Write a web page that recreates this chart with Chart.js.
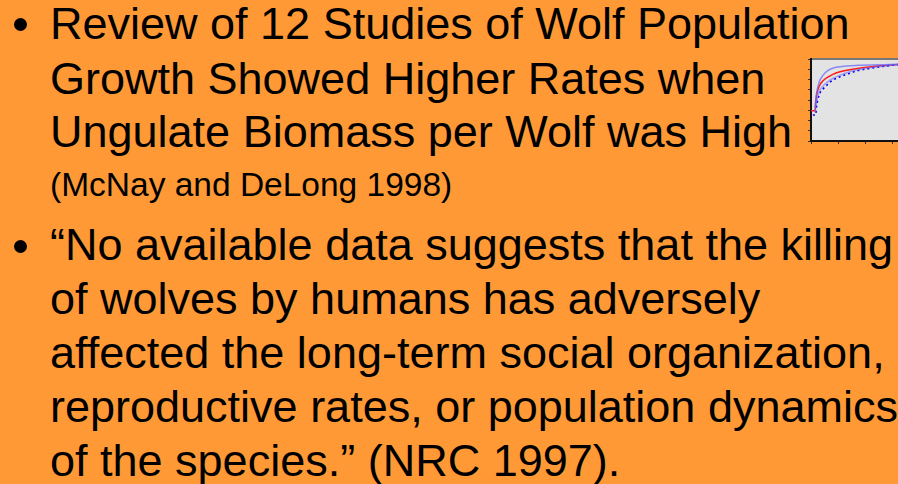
<!DOCTYPE html>
<html>
<head>
<meta charset="utf-8">
<script src="https://cdn.jsdelivr.net/npm/chart.js@4.4.1/dist/chart.umd.min.js"></script>
<style>
  html, body { margin: 0; padding: 0; }
  body {
    width: 898px; height: 484px; overflow: hidden; position: relative;
    background: #fe9935; font-family: "Liberation Sans", Arial, sans-serif; color: #000;
  }
  .ln { position: absolute; left: 50px; white-space: nowrap; font-size: 45px; line-height: 45px; }
  .small { font-size: 33.5px; line-height: 33.5px; }
  .dot { position: absolute; left: 14px; width: 13px; height: 13px; border-radius: 50%; background: #000; }
  #box { position: absolute; left: 807px; top: 55px; width: 101px; height: 90px; }
</style>
</head>
<body>
<div class="dot" style="top:18px"></div>
<div class="ln" style="top:1px">Review of 12 Studies of Wolf Population</div>
<div class="ln" style="top:56px">Growth Showed Higher Rates when</div>
<div class="ln" style="top:109px">Ungulate Biomass per Wolf was High</div>
<div class="ln small" style="top:168px">(McNay and DeLong 1998)</div>

<div class="dot" style="top:240px"></div>
<div class="ln" style="top:222px">“No available data suggests that the killing</div>
<div class="ln" style="top:276px">of wolves by humans has adversely</div>
<div class="ln" style="top:330px">affected the long-term social organization,</div>
<div class="ln" style="top:384px">reproductive rates, or population dynamics</div>
<div class="ln" style="top:438px">of the species.” (NRC 1997).</div>

<div id="box"><canvas id="thumb" width="101" height="90"></canvas></div>

<script>
const curveX = [0, 0.07, 0.15, 0.17, 0.2, 0.3, 0.45, 0.6, 0.8, 1.0, 1.3, 1.7, 2.2, 2.7, 3.2, 3.6];
const redY   = [2.96, 2.96, 2.96, 3.7, 4.4, 5.35, 5.9, 6.2, 6.5, 6.7, 6.9, 7.08, 7.25, 7.36, 7.46, 7.5];
const blueY  = [null, 2.54, 2.54, 2.54, 3.3, 4.5, 5.1, 5.5, 5.95, 6.2, 6.5, 6.85, 7.1, 7.3, 7.45, 7.5];
const upperY = [null, null, 3.2, 3.9, 4.6, 5.75, 6.45, 6.85, 7.1, 7.22, 7.32, 7.38, 7.42, 7.45, 7.48, 7.5];
const lowerY = [null, null, 2.8, 3.2, 3.8, 4.8, 5.4, 5.75, 6.1, 6.35, 6.65, 6.95, 7.18, 7.33, 7.46, 7.5];
const xTicks = [0, 1, 2, 3];

function pontos(ys) {
  return curveX.map((x, i) => ({ x: x, y: ys[i] })).filter(p => p.y !== null);
}

// fundo cinza e borda superior da área do gráfico
const fundo = {
  id: "fundo",
  beforeDraw(chart) {
    const a = chart.chartArea, ctx = chart.ctx;
    ctx.save();
    ctx.fillStyle = "#e3e3e3";
    ctx.fillRect(a.left, a.top, a.right - a.left, a.bottom - a.top);
    ctx.strokeStyle = "#777";
    ctx.lineWidth = 2;
    ctx.beginPath();
    ctx.moveTo(a.left, a.top);
    ctx.lineTo(a.right, a.top);
    ctx.stroke();
    ctx.restore();
  }
};

const linha = (ys, cor, w, dash) => ({
  data: pontos(ys),
  borderColor: cor,
  borderWidth: w,
  borderDash: dash || [],
  pointRadius: 0,
  fill: false,
  cubicInterpolationMode: "monotone"
});

new Chart(document.getElementById("thumb"), {
  type: "line",
  data: {
    datasets: [
      linha(upperY, "rgba(100,100,255,0.7)", 1.5),
      linha(lowerY, "rgba(100,100,255,0.55)", 1.5),
      linha(blueY, "#0000ee", 1.6, [2, 3]),
      linha(redY, "#ff1a1a", 1.5)
    ]
  },
  options: {
    responsive: false,
    animation: false,
    layout: { padding: { top: 4, right: 0, left: 0, bottom: 0 } },
    plugins: { legend: { display: false }, tooltip: { enabled: false } },
    scales: {
      x: {
        type: "linear", min: 0, max: 3.55,
        afterBuildTicks: s => { s.ticks = xTicks.map(v => ({ value: v })); },
        afterFit: s => { s.height = 4; },
        ticks: { display: false },
        grid: { drawOnChartArea: false, drawTicks: true, tickLength: 3, color: "#333" },
        border: { display: true, color: "#111", width: 2 }
      },
      y: {
        min: 0, max: 8,
        ticks: { display: false, stepSize: 1 },
        afterFit: s => { s.width = 4; },
        grid: { drawOnChartArea: false, drawTicks: true, tickLength: 3, color: "#333" },
        border: { display: true, color: "#111", width: 2 }
      }
    }
  },
  plugins: [fundo]
});
</script>
</body>
</html>
